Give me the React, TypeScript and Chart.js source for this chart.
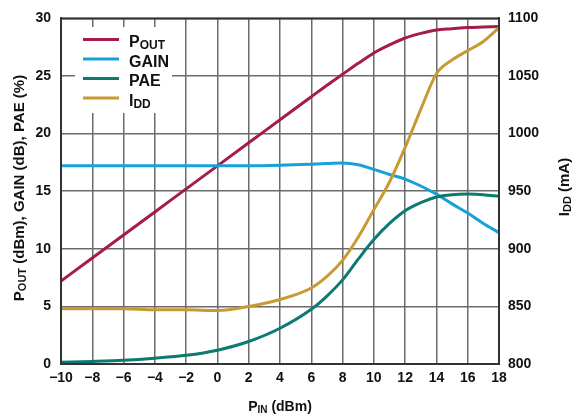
import React, { useEffect, useRef } from "react";
import { Chart, registerables } from "chart.js";

Chart.register(...registerables);

const PIN = [-10, -8, -6, -4, -2, 0, 2, 4, 6, 7, 8, 9, 10, 11, 12, 13, 14, 15, 16, 17, 18];
const POUT = [7.2, 9.2, 11.2, 13.2, 15.2, 17.2, 19.2, 21.2, 23.2, 24.2, 25.15, 26.1, 27.0, 27.7, 28.3, 28.7, 29.0, 29.1, 29.2, 29.25, 29.3];
const GAIN = [17.2, 17.2, 17.2, 17.2, 17.2, 17.2, 17.2, 17.25, 17.35, 17.4, 17.45, 17.3, 16.9, 16.45, 16.05, 15.45, 14.75, 13.9, 13.1, 12.2, 11.4];
const PAE = [0.15, 0.22, 0.32, 0.5, 0.75, 1.2, 1.95, 3.1, 4.75, 5.9, 7.3, 9.1, 10.8, 12.2, 13.3, 14.0, 14.5, 14.7, 14.75, 14.7, 14.55];
const IDD = [848, 848, 848, 847, 847, 846.5, 850, 856, 866, 876, 890, 910, 934, 958, 988, 1021, 1052, 1064, 1072, 1080, 1092];

const COLORS = { pout: "#A51C45", gain: "#17A1D8", pae: "#0B7A70", idd: "#C89A32" };
const FONT = '"Liberation Sans", Arial, sans-serif';

type Part = [string, boolean];

function richWidth(ctx: CanvasRenderingContext2D, parts: Part[], size: number) {
  let w = 0;
  for (const [t, sub] of parts) {
    ctx.font = `bold ${sub ? Math.round(size * 0.72) : size}px ${FONT}`;
    w += ctx.measureText(t).width;
  }
  return w;
}

function drawRich(ctx: CanvasRenderingContext2D, parts: Part[], x: number, y: number, size: number, center: boolean) {
  ctx.textBaseline = "alphabetic";
  ctx.textAlign = "left";
  let cx = center ? x - richWidth(ctx, parts, size) / 2 : x;
  for (const [t, sub] of parts) {
    ctx.font = `bold ${sub ? Math.round(size * 0.72) : size}px ${FONT}`;
    ctx.fillText(t, cx, sub ? y + size * 0.14 : y);
    cx += ctx.measureText(t).width;
  }
}

const decor = {
  id: "decor",
  afterDatasetsDraw(chart: any) {
    const ctx: CanvasRenderingContext2D = chart.ctx;
    const a = chart.chartArea;
    ctx.save();
    // frame
    ctx.strokeStyle = "#333";
    ctx.lineWidth = 2;
    ctx.strokeRect(a.left, a.top, a.right - a.left, a.bottom - a.top);
    // legend
    ctx.fillStyle = "#fff";
    ctx.fillRect(75, 27, 97, 86);
    const items: { parts: Part[]; color: string; y: number }[] = [
      { parts: [["P", false], ["OUT", true]], color: COLORS.pout, y: 39.5 },
      { parts: [["GAIN", false]], color: COLORS.gain, y: 59 },
      { parts: [["PAE", false]], color: COLORS.pae, y: 78.5 },
      { parts: [["I", false], ["DD", true]], color: COLORS.idd, y: 98 },
    ];
    for (const it of items) {
      ctx.strokeStyle = it.color;
      ctx.lineWidth = 3;
      ctx.beginPath();
      ctx.moveTo(83, it.y);
      ctx.lineTo(119, it.y);
      ctx.stroke();
      ctx.fillStyle = "#111";
      drawRich(ctx, it.parts, 129, it.y + 7.5, 16, false);
    }
    ctx.fillStyle = "#111";
    // bottom title
    drawRich(ctx, [["P", false], ["IN", true], [" (dBm)", false]], 280, 411, 14, true);
    // left title
    ctx.save();
    ctx.translate(24, 188);
    ctx.rotate(-Math.PI / 2);
    drawRich(ctx, [["P", false], ["OUT", true], [" (dBm), GAIN (dB), PAE (%)", false]], 0, 0, 15, true);
    ctx.restore();
    // right title
    ctx.save();
    ctx.translate(569, 187);
    ctx.rotate(-Math.PI / 2);
    drawRich(ctx, [["I", false], ["DD", true], [" (mA)", false]], 0, 0, 15, true);
    ctx.restore();
    ctx.restore();
  },
};

export default function App() {
  const ref = useRef<HTMLCanvasElement>(null);
  useEffect(() => {
    document.body.style.margin = "0";
    const mk = (label: string, data: number[], color: string, axis: string) => ({
      label,
      data: PIN.map((x, i) => ({ x, y: data[i] })),
      borderColor: color,
      backgroundColor: color,
      borderWidth: 3,
      pointRadius: 0,
      cubicInterpolationMode: "monotone" as const,
      yAxisID: axis,
    });
    const tickFont = { family: FONT, size: 14, weight: "bold" as const };
    const chart = new Chart(ref.current!, {
      type: "line",
      data: {
        datasets: [
          mk("IDD", IDD, COLORS.idd, "y1"),
          mk("PAE", PAE, COLORS.pae, "y"),
          mk("GAIN", GAIN, COLORS.gain, "y"),
          mk("POUT", POUT, COLORS.pout, "y"),
        ],
      },
      options: {
        responsive: false,
        animation: false,
        layout: { padding: { top: 12, left: 0, right: 0, bottom: 0 } },
        plugins: { legend: { display: false }, tooltip: { enabled: false } },
        scales: {
          x: {
            type: "linear",
            min: -10,
            max: 18,
            ticks: {
              stepSize: 2,
              color: "#111",
              font: tickFont,
              padding: 6,
              maxRotation: 0,
              callback: (v: any) => String(v).replace("-", "\u2212"),
            },
            grid: { color: "#6b6b6b", lineWidth: 1.5, drawTicks: false },
            border: { color: "#333", width: 2 },
            afterFit: (s: any) => { s.height = 53; },
          },
          y: {
            position: "left",
            min: 0,
            max: 30,
            ticks: { stepSize: 5, color: "#111", font: tickFont, padding: 10, callback: (v: any) => String(v) },
            grid: { color: "#6b6b6b", lineWidth: 1.5, drawTicks: false },
            border: { color: "#333", width: 2 },
            afterFit: (s: any) => { s.width = 61; },
          },
          y1: {
            position: "right",
            min: 800,
            max: 1100,
            ticks: { stepSize: 50, color: "#111", font: tickFont, padding: 9, callback: (v: any) => String(v) },
            grid: { display: false, drawTicks: false },
            border: { color: "#333", width: 2 },
            afterFit: (s: any) => { s.width = 83; },
          },
        },
      },
      plugins: [decor],
    } as any);
    return () => chart.destroy();
  }, []);
  return (
    <div style={{ position: "absolute", left: 0, top: 0, width: 582, height: 417, background: "#fff" }}>
      <canvas ref={ref} width={582} height={417} />
    </div>
  );
}
